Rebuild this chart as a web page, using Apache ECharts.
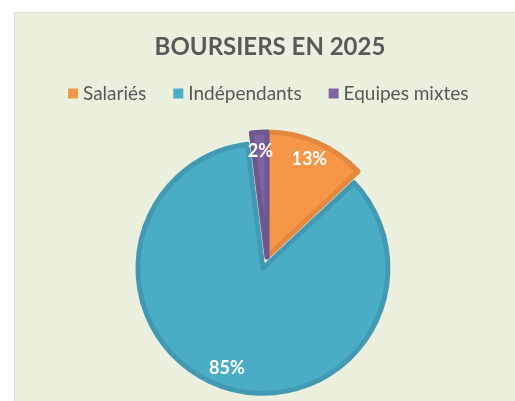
<!DOCTYPE html>
<html>
<head>
<meta charset="utf-8">
<script src="https://cdn.jsdelivr.net/npm/echarts@6/dist/echarts.min.js"></script>
<style>
  html, body { margin: 0; padding: 0; background: #ffffff; }
  .panel {
    position: absolute; left: 14px; top: 12px; width: 501px; height: 389px;
    background: #ebf0df; border-left: 1px solid #dcdcd6; border-top: 1px solid #dcdcd6;
    box-sizing: border-box;
  }
  #chart { position: absolute; left: 0; top: 0; width: 515px; height: 401px; }
</style>
</head>
<body>
<div class="panel"></div>
<div id="chart"></div>
<script>
var categories = ['Salariés', 'Indépendants', 'Equipes mixtes'];
var values = [13, 85, 2];
var fills = ['#f79646', '#4bacc6', '#8064a2'];
var borders = ['#e3883e', '#4299b2', '#6f5790'];
var exploded = [false, true, false];

var myChart = echarts.init(document.getElementById('chart'));

var mainData = categories.map(function (name, i) {
    return {
        name: name,
        value: values[i],
        selected: exploded[i],
        itemStyle: { color: fills[i], borderColor: borders[i] },
        select: { itemStyle: { color: fills[i], borderColor: borders[i], borderWidth: 5 } }
    };
});
var labelData = categories.map(function (name, i) {
    return { name: name, value: values[i], selected: exploded[i] };
});

var option = {
    animation: false,
    backgroundColor: 'transparent',
    title: {
        text: 'BOURSIERS EN 2025',
        left: 265,
        top: 30,
        textAlign: 'center',
        textStyle: {
            fontFamily: 'Lato',
            fontWeight: 'bold',
            fontSize: 24,
            color: '#595959'
        }
    },
    legend: {
        data: categories,
        top: 79,
        left: 63,
        icon: 'rect',
        itemWidth: 10,
        itemHeight: 10,
        itemGap: 27,
        itemStyle: { borderWidth: 0 },
        textStyle: {
            fontFamily: 'Lato',
            fontSize: 19,
            color: '#595959'
        }
    },
    series: [{
        name: 'Boursiers',
        type: 'pie',
        center: [267, 257],
        radius: 125,
        startAngle: 90,
        selectedMode: 'single',
        selectedOffset: 12,
        label: { show: false },
        labelLine: { show: false },
        itemStyle: { borderWidth: 5 },
        emphasis: { disabled: true },
        data: mainData
    }, {
        name: 'Labels',
        type: 'pie',
        center: [267, 257],
        radius: [82, 125],
        startAngle: 90,
        silent: true,
        selectedMode: 'single',
        selectedOffset: 12,
        itemStyle: { color: 'rgba(0,0,0,0)', borderWidth: 0 },
        select: { itemStyle: { color: 'rgba(0,0,0,0)', borderWidth: 0 } },
        emphasis: { disabled: true },
        label: {
            show: true,
            position: 'inside',
            formatter: '{c}%',
            fontFamily: 'Lato',
            fontWeight: 'bold',
            fontSize: 18,
            color: '#ffffff'
        },
        labelLine: { show: false },
        data: labelData
    }]
};
myChart.setOption(option);
</script>
</body>
</html>
